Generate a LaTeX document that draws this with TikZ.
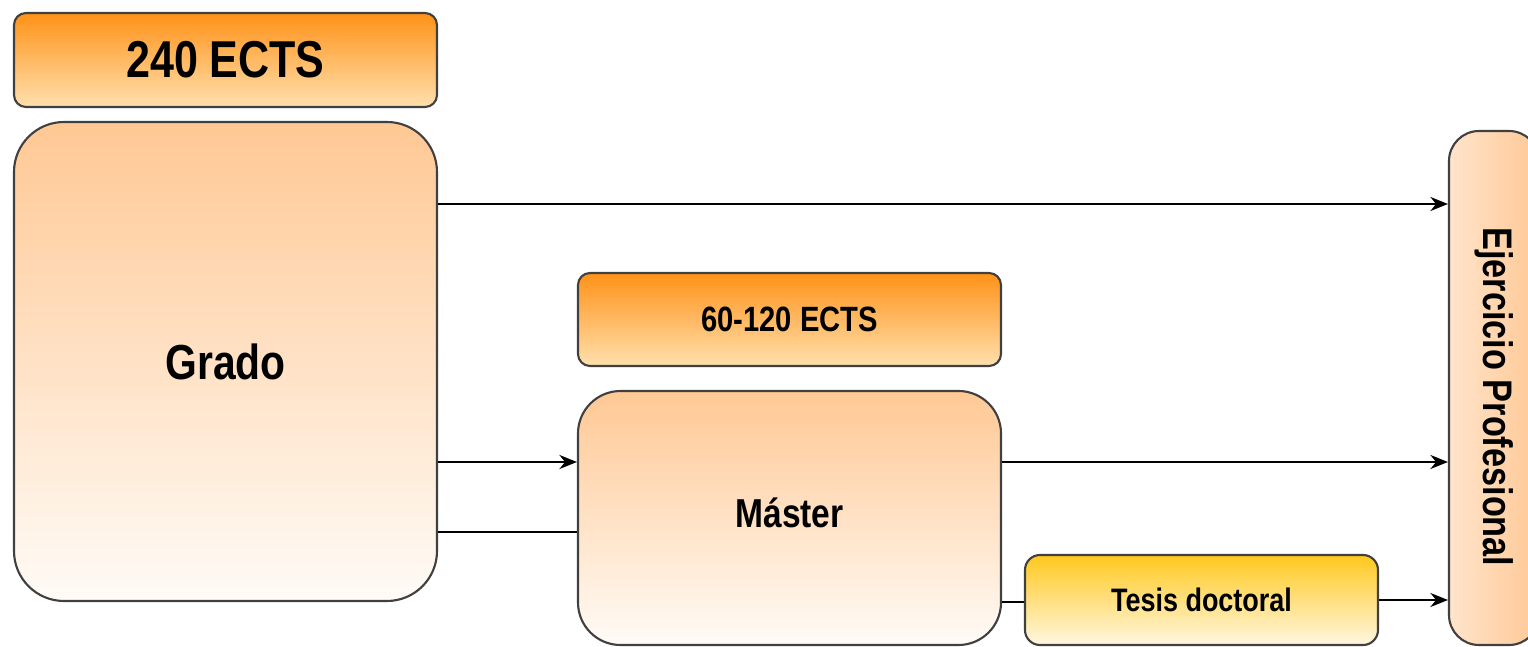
\documentclass[tikz,border=0pt]{standalone}
\usepackage{fontspec}
\setmainfont{Liberation Sans}[FakeStretch=0.83]
\usetikzlibrary{arrows.meta}
\definecolor{ectstop}{RGB}{255,146,24}
\definecolor{ectsbot}{RGB}{255,224,174}
\definecolor{peach}{RGB}{255,200,148}
\definecolor{paleend}{RGB}{255,251,247}
\definecolor{ejleft}{RGB}{255,228,204}
\definecolor{tesistop}{RGB}{255,200,30}
\definecolor{tesisbot}{RGB}{255,247,225}
\definecolor{edge}{RGB}{64,64,64}
\begin{document}
\begin{tikzpicture}[line join=round, >={Stealth[length=10pt,width=8pt]},
	box/.style={draw=edge, line width=1.2pt, text=black},
	ects/.style={box, rounded corners=.24cm, top color=ectstop, bottom color=ectsbot, minimum width=8.46cm},
	level/.style={box, top color=peach, bottom color=paleend, minimum width=8.46cm},
	link/.style={line width=1.3pt}]
	\useasboundingbox (0,0) rectangle (30.56,-12.94);
	% boxes
	\node[ects, minimum height=1.88cm, font=\bfseries\fontsize{29.5}{31}\selectfont] (ects240) at (4.51,-1.2) {240 ECTS};
	\node[level, rounded corners=1cm, minimum height=9.58cm, font=\bfseries\fontsize{28}{30}\selectfont] (grado) at (4.51,-7.23) {Grado};
	\node[ects, minimum height=1.86cm, font=\bfseries\fontsize{20}{22}\selectfont] (ects120) at (15.79,-6.39) {60-120 ECTS};
	\node[level, rounded corners=.85cm, minimum height=5.08cm, font=\bfseries\fontsize{23}{25}\selectfont] (master) at (15.79,-10.36) {\raisebox{6pt}{Máster}};
	\node[box, rounded corners=.3cm, top color=tesistop, bottom color=tesisbot, minimum width=7.06cm, minimum height=1.8cm, font=\bfseries\fontsize{18.5}{20}\selectfont] (tesis) at (24.03,-12.0) {Tesis doctoral};
	\node[box, rounded corners=.6cm, left color=ejleft, right color=peach, minimum width=1.8cm, minimum height=10.28cm, font=\bfseries\fontsize{23.5}{25}\selectfont] (ejer) at (29.88,-7.76) {\rotatebox{-90}{\hspace{.36cm}Ejercicio Profesional}};
	% connectors
	\coordinate (g1) at ([yshift=3.15cm]grado.east);
	\coordinate (g2) at ([yshift=-2.01cm]grado.east);
	\coordinate (g3) at ([yshift=-3.41cm]grado.east);
	\coordinate (m1) at ([yshift=1.12cm]master.east);
	\coordinate (m2) at ([yshift=-1.68cm]master.east);
	\draw[link,->] (g1) -- (g1 -| ejer.west);
	\draw[link,->] (g2) -- (g2 -| master.west);
	\draw[link] (g3) -- (g3 -| master.west);
	\draw[link,->] (m1) -- (m1 -| ejer.west);
	\draw[link] (m2) -- (m2 -| tesis.west);
	\draw[link,->] (tesis.east) -- (tesis.east -| ejer.west);
\end{tikzpicture}
\end{document}
